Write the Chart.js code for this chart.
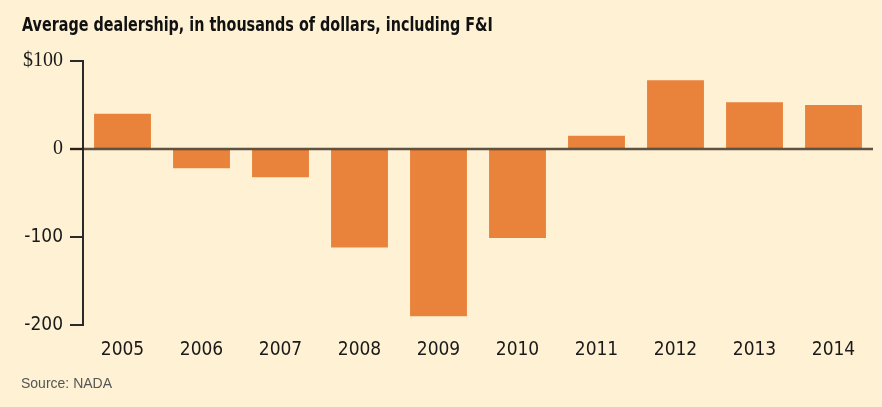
<!DOCTYPE html>
<html>
<head>
<meta charset="utf-8">
<script src="https://cdn.jsdelivr.net/npm/chart.js@4/dist/chart.umd.min.js"></script>
<style>
  html, body { margin: 0; padding: 0; }
  body { width: 882px; height: 407px; background: #fff2d4; position: relative; overflow: hidden; }
  .title { position: absolute; left: 22px; top: 13px; font: bold 19px 'Liberation Sans Narrow', 'DejaVu Sans Condensed', sans-serif; color: #111; white-space: nowrap; transform: scaleX(0.84); transform-origin: 0 0; }
  .source { position: absolute; left: 21px; top: 375px; font: 14px 'Liberation Sans', Arial, sans-serif; color: #555; }
  .chart-box { position: absolute; left: 0; top: 0; width: 882px; height: 407px; }
</style>
</head>
<body>
<div class="chart-box"><canvas id="profit" width="882" height="407"></canvas></div>
<div class="title">Average dealership, in thousands of dollars, including F&amp;I</div>
<div class="source">Source: NADA</div>
<script>
var years = ['2005', '2006', '2007', '2008', '2009', '2010', '2011', '2012', '2013', '2014'];
var profit = [40, -22, -32, -112, -190, -101, 15, 78, 53, 50];
var yTicks = [100, 0, -100, -200];

var narrow = "'Liberation Sans Narrow', 'DejaVu Sans Condensed', sans-serif";
var serif = "'Liberation Serif', 'DejaVu Serif', serif";

// zero line drawn over the bars, as in the print graphic
var zeroLine = {
    id: 'zeroLine',
    afterDatasetsDraw(chart) {
        var ctx = chart.ctx, area = chart.chartArea;
        var y = chart.scales.y.getPixelForValue(0);
        ctx.save();
        ctx.strokeStyle = 'rgba(40, 28, 18, 0.75)';
        ctx.lineWidth = 2.5;
        ctx.beginPath();
        ctx.moveTo(area.left - 13, y);
        ctx.lineTo(area.right, y);
        ctx.stroke();
        ctx.restore();
    }
};

var ctx = document.getElementById('profit').getContext('2d');
var chart = new Chart(ctx, {
    type: 'bar',
    data: {
        labels: years,
        datasets: [{
            data: profit,
            backgroundColor: '#e9823a',
            barPercentage: 0.72,
            categoryPercentage: 1
        }]
    },
    options: {
        responsive: false,
        animation: false,
        devicePixelRatio: 1,
        layout: { padding: { top: 61, right: 9, bottom: 0, left: 0 } },
        plugins: { legend: { display: false }, tooltip: { enabled: false } },
        scales: {
            x: {
                grid: { display: false },
                border: { display: false },
                ticks: { color: '#1a1a1a', font: { family: narrow, size: 19 }, padding: 6 },
                afterFit: function(scale) { scale.height = 82; }
            },
            y: {
                min: -200,
                max: 100,
                afterBuildTicks: function(scale) {
                    scale.ticks = yTicks.map(function(v) { return { value: v }; });
                },
                grid: { drawOnChartArea: false, tickLength: 13, lineWidth: 2, color: '#2a2a2a' },
                border: { display: true, width: 2, color: '#2a2a2a' },
                ticks: {
                    color: '#1a1a1a',
                    padding: 7,
                    font: function(c) {
                        var v = c.tick ? c.tick.value : 0;
                        return { family: v >= 0 ? serif : narrow, size: v >= 0 ? 20 : 19 };
                    },
                    callback: function(v) { return v === 100 ? '$100' : v; }
                },
                afterFit: function(scale) { scale.width = 83; }
            }
        }
    },
    plugins: [zeroLine]
});
</script>
</body>
</html>
